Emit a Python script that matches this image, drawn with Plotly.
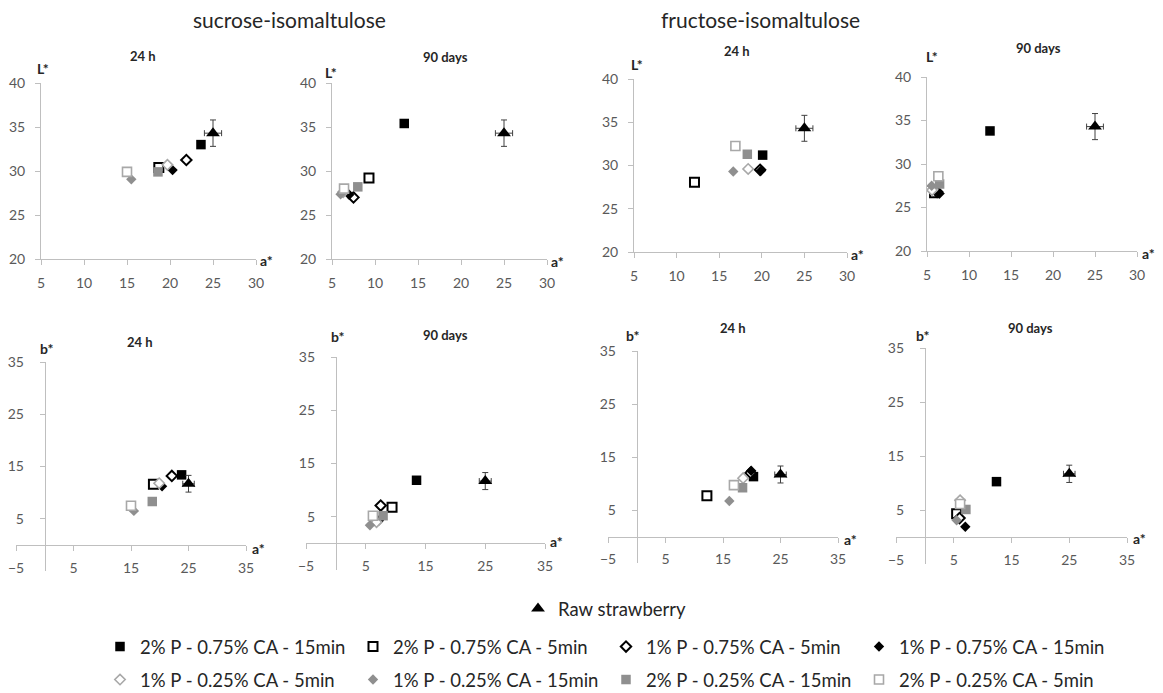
import plotly.graph_objects as go

W, H = 1163, 693
FONT = "Lato"

# ---------------- data ----------------
series_names = [
    "2% P - 0.75% CA - 15min", "2% P - 0.75% CA - 5min",
    "1% P - 0.75% CA - 5min", "1% P - 0.75% CA - 15min",
    "1% P - 0.25% CA - 5min", "1% P - 0.25% CA - 15min",
    "2% P - 0.25% CA - 15min", "2% P - 0.25% CA - 5min",
]

# sucrose-isomaltulose, 24 h
suc24_a = [23.6, 18.7, 21.9, 20.3, 19.7, 15.5, 18.6, 15.0]
suc24_L = [33.0, 30.4, 31.25, 30.1, 30.7, 29.05, 29.9, 29.9]
suc24_ab = [23.8, 18.9, 22.1, 20.4, 19.9, 15.5, 18.7, 15.0]
suc24_b = [13.4, 11.6, 13.2, 11.2, 11.8, 6.5, 8.3, 7.5]
# sucrose-isomaltulose, 90 days
suc90_a = [13.4, 9.3, 7.5, 7.0, 6.3, 6.0, 8.0, 6.4]
suc90_L = [35.4, 29.2, 27.0, 27.3, 27.6, 27.35, 28.2, 28.0]
suc90_ab = [13.5, 9.4, 7.5, 7.2, 6.8, 5.7, 7.9, 6.2]
suc90_b = [11.85, 6.8, 7.1, 4.3, 4.0, 3.4, 5.2, 5.2]
# fructose-isomaltulose, 24 h
fru24_a = [20.1, 12.1, 19.8, 19.9, 18.4, 16.65, 18.3, 16.9]
fru24_L = [31.2, 28.05, 29.5, 29.4, 29.6, 29.3, 31.3, 32.25]
fru24_ab = [20.3, 12.2, 19.8, 19.9, 18.5, 16.1, 18.4, 16.9]
fru24_b = [11.3, 7.7, 12.0, 12.4, 11.0, 6.7, 9.2, 9.7]
# fructose-isomaltulose, 90 days
fru90_a = [12.5, 5.9, 6.2, 6.5, 5.6, 5.55, 6.5, 6.35]
fru90_L = [33.8, 26.7, 26.8, 26.6, 27.0, 27.5, 27.7, 28.6]
fru90_ab = [12.4, 5.5, 6.0, 7.0, 6.1, 5.5, 7.1, 6.1]
fru90_b = [10.25, 4.3, 3.5, 1.9, 6.8, 3.1, 5.1, 6.1]

# raw strawberry (mean and error)
raw_a, raw_a_err = 25.0, 1.0
raw_L, raw_L_err = 34.3, 1.5
raw_b, raw_b_err = 11.7, 1.6

L_ticks = [20, 25, 30, 35, 40]
aL_ticks = [5, 10, 15, 20, 25, 30]
b_ticks = [5, 15, 25, 35]
ab_ticks = [-5, 5, 15, 25, 35]

panel_titles = ["24 h", "90 days", "24 h", "90 days", "24 h", "90 days", "24 h", "90 days"]

# ---------------- styles ----------------
sym = ["square", "square", "diamond", "diamond", "diamond", "diamond", "square", "square"]
fill = ["#000000", "#ffffff", "#ffffff", "#000000", "#ffffff", "#8f8f8f", "#8f8f8f", "#ffffff"]
edge = ["#000000", "#000000", "#000000", "#000000", "#a8a8a8", "#8f8f8f", "#8f8f8f", "#a8a8a8"]
edgew = [0, 2, 2, 0, 1.6, 0, 0, 1.6]
msize = [9.5, 9, 8, 8, 8, 8, 9.5, 9]

# panel geometry in pixels: (x0, x1, ytop, ybottom)
geom = [
    (41, 256, 83, 259), (332, 547, 83, 259), (634, 847, 79, 252), (927, 1137, 77, 251),
    (16, 246, 362, 571), (306, 545, 357, 570), (608, 838, 351, 563), (896, 1127, 348, 564),
]
title_pos = [(143, 56), (445, 57), (737, 51), (1038, 48), (140, 342), (445, 335), (733, 328), (1030, 328)]
ylab_pos = [(43, 68), (331, 73), (637, 65), (932, 57), (47, 348), (338, 336), (633, 335), (923, 335)]
xlab_pos = [(266, 260), (557, 261), (857, 255), (1148, 253), (258, 548), (556, 541), (850, 539), (1139, 538)]

panels = [
    (suc24_a, suc24_L, "L"), (suc90_a, suc90_L, "L"), (fru24_a, fru24_L, "L"), (fru90_a, fru90_L, "L"),
    (suc24_ab, suc24_b, "b"), (suc90_ab, suc90_b, "b"), (fru24_ab, fru24_b, "b"), (fru90_ab, fru90_b, "b"),
]

AXC = "#bfbfbf"
TICKC = "#595959"

fig = go.Figure()
annotations = []
layout_axes = {}

for p, (xa, ya, kind) in enumerate(panels):
    n = p + 1
    xs = "x" if n == 1 else f"x{n}"
    ys = "y" if n == 1 else f"y{n}"
    x0, x1, yt, yb = geom[p]
    xdom = [x0 / W, x1 / W]
    ydom = [1 - yb / H, 1 - yt / H]
    for i in range(8):
        showl = p == 0
        fig.add_trace(go.Scatter(
            x=[xa[i]], y=[ya[i]], mode="markers", name=series_names[i],
            marker=dict(symbol=sym[i], size=msize[i], color=fill[i],
                        line=dict(color=edge[i], width=edgew[i])),
            xaxis=xs, yaxis=ys, showlegend=showl,
            legend="legend" if i < 4 else "legend3",
        ))
    rv = raw_L if kind == "L" else raw_b
    re = raw_L_err if kind == "L" else raw_b_err
    fig.add_trace(go.Scatter(
        x=[raw_a], y=[rv], mode="markers", name="Raw strawberry",
        marker=dict(symbol="triangle-up", size=12, color="#000000"),
        error_x=dict(type="data", array=[raw_a_err], color="#404040", thickness=1, width=3),
        error_y=dict(type="data", array=[re], color="#404040", thickness=1, width=3),
        xaxis=xs, yaxis=ys, showlegend=(p == 0), legend="legend2",
    ))

    common = dict(showgrid=False, zeroline=False, showline=True, linecolor=AXC, linewidth=1,
                  ticks="outside", ticklen=5, tickcolor=AXC, tickwidth=1, automargin=False,
                  tickfont=dict(family=FONT, size=14, color=TICKC), fixedrange=True)
    xk = "xaxis" if n == 1 else f"xaxis{n}"
    yk = "yaxis" if n == 1 else f"yaxis{n}"
    if kind == "L":
        layout_axes[xk] = dict(common, domain=xdom, range=[aL_ticks[0], aL_ticks[-1]],
                               tickmode="array", tickvals=aL_ticks, anchor=ys,
                               ticklabelstandoff=6)
        layout_axes[yk] = dict(common, domain=ydom, range=[L_ticks[0], L_ticks[-1]],
                               tickmode="array", tickvals=L_ticks, anchor=xs,
                               ticklabelstandoff=7)
    else:
        rng = [ab_ticks[0], ab_ticks[-1]]
        fy = (0 - rng[0]) / (rng[1] - rng[0])
        layout_axes[xk] = dict(common, domain=xdom, range=rng, tickmode="array",
                               tickvals=ab_ticks, anchor="free",
                               position=ydom[0] + fy * (ydom[1] - ydom[0]),
                               ticklabelstandoff=5)
        layout_axes[yk] = dict(common, domain=ydom, range=rng, tickmode="array",
                               tickvals=b_ticks, anchor="free",
                               position=xdom[0] + fy * (xdom[1] - xdom[0]),
                               ticklabelstandoff=13)

    tx, ty = title_pos[p]
    annotations.append(dict(text=f"<b>{panel_titles[p]}</b>", x=tx / W, y=1 - ty / H,
                            xref="paper", yref="paper", showarrow=False,
                            xanchor="center", yanchor="middle",
                            font=dict(family=FONT, size=13, color="#262626")))
    lx, ly = ylab_pos[p]
    annotations.append(dict(text="<b>L*</b>" if kind == "L" else "<b>b*</b>", x=lx / W, y=1 - ly / H,
                            xref="paper", yref="paper", showarrow=False,
                            xanchor="center", yanchor="middle",
                            font=dict(family=FONT, size=14, color="#262626")))
    ax_, ay_ = xlab_pos[p]
    annotations.append(dict(text="<b>a*</b>", x=ax_ / W, y=1 - ay_ / H,
                            xref="paper", yref="paper", showarrow=False,
                            xanchor="center", yanchor="middle",
                            font=dict(family=FONT, size=14, color="#262626")))

for txt, cx in (("sucrose-isomaltulose", 289), ("fructose-isomaltulose", 760)):
    annotations.append(dict(text=txt, x=cx / W, y=1 - 19 / H, xref="paper", yref="paper",
                            showarrow=False, xanchor="center", yanchor="middle",
                            font=dict(family=FONT, size=21, color="#262626")))

leg_common = dict(orientation="h", xanchor="left", yanchor="middle", bgcolor="rgba(0,0,0,0)",
                  entrywidth=208, entrywidthmode="pixels", itemclick=False, itemdoubleclick=False,
                  font=dict(family=FONT, size=18.5, color="#262626"))

fig.update_layout(
    width=W, height=H, margin=dict(l=0, r=0, t=0, b=0, autoexpand=False),
    paper_bgcolor="white", plot_bgcolor="white",
    annotations=annotations,
    legend=dict(leg_common, x=100 / W, y=1 - 647 / H),
    legend3=dict(leg_common, x=100 / W, y=1 - 680 / H),
    legend2=dict(leg_common, x=518 / W, y=1 - 609 / H),
    **layout_axes,
)

fig.write_html(
    "out.html",
    config={"displayModeBar": False, "staticPlot": False},
    post_script="document.body.style.margin='0';document.body.style.overflow='hidden';",
)
